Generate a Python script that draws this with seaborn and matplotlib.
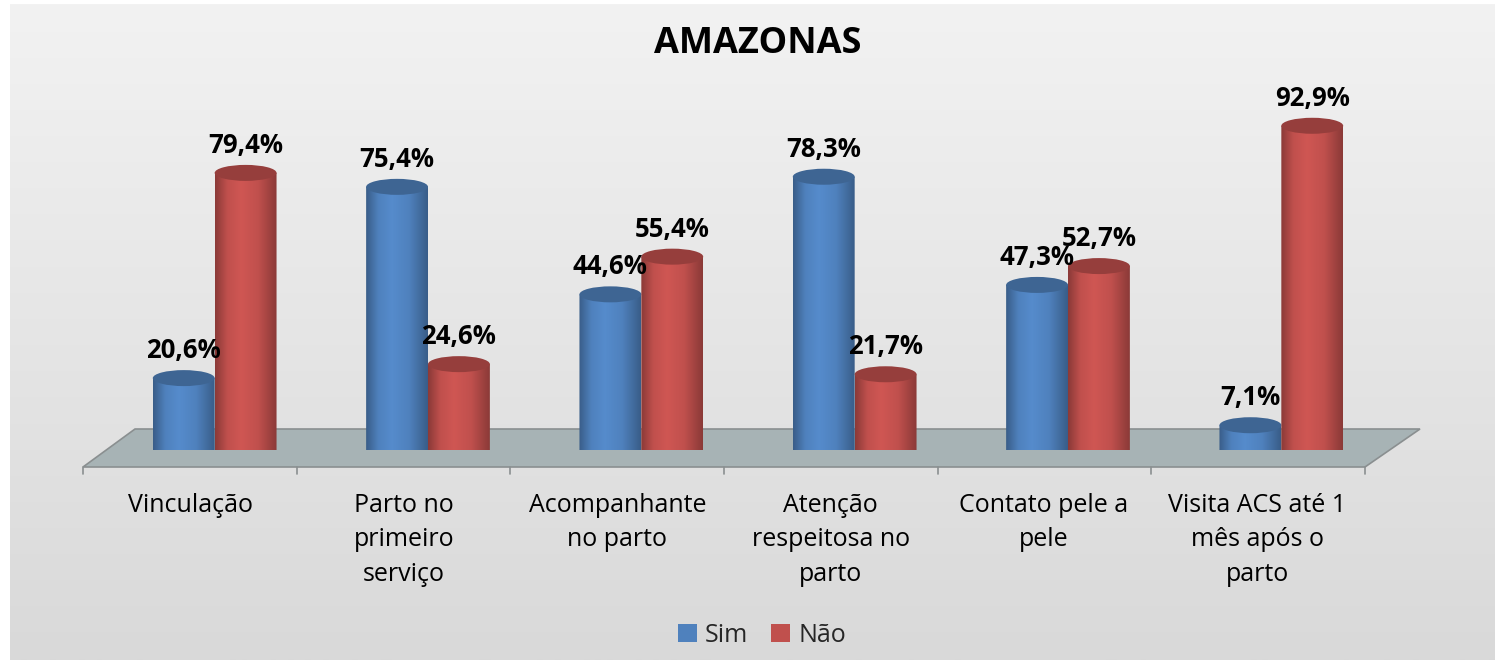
import numpy as np
import pandas as pd
import matplotlib
matplotlib.use("Agg")
import matplotlib.pyplot as plt
import seaborn as sns
from matplotlib.patches import Ellipse, Polygon, PathPatch, Rectangle, Patch
from matplotlib.path import Path
from matplotlib.colors import LinearSegmentedColormap, to_rgb
from matplotlib.transforms import ScaledTranslation

# ---------------- data ----------------
categories = ["Vinculação", "Parto no\nprimeiro\nserviço", "Acompanhante\nno parto",
              "Atenção\nrespeitosa no\nparto", "Contato pele a\npele",
              "Visita ACS até 1\nmês após o\nparto"]
series = ["Sim", "Não"]
sim_values = [20.6, 75.4, 44.6, 78.3, 47.3, 7.1]
nao_values = [79.4, 24.6, 55.4, 21.7, 52.7, 92.9]
title = "AMAZONAS"

BLUE = "#4F81BD"
RED = "#C0504D"

sns.set_theme(style="white")
FONT = ["Open Sans", "DejaVu Sans"]
plt.rcParams["font.family"] = FONT

W, H = 14.95, 6.60
fig = plt.figure(figsize=(W, H), dpi=100)
fig.patch.set_facecolor("white")

# background gradient panel (with small white border top/left)
bg = fig.add_axes([10 / 1495, 0, 1 - 10 / 1495, 1 - 4 / 660], zorder=-10)
grad = np.linspace(0, 1, 256).reshape(-1, 1)
bg_cmap = LinearSegmentedColormap.from_list("bg", ["#f2f2f2", "#d9d9d9"])
bg.imshow(grad, aspect="auto", cmap=bg_cmap, extent=(0, 1, 1, 0))
bg.set_axis_off()

# main axes: x -0.5..5.5 spans px 108..1388, y 0 at px 450, 3.49 px/unit
px_per_unit = 3.49
ax_left, ax_right = 108, 1388
ax_bottom_px = 450
ymax = 100
ax = fig.add_axes([ax_left / 1495, (660 - ax_bottom_px) / 660,
                   (ax_right - ax_left) / 1495, ymax * px_per_unit / 660])
ax.set_facecolor("none")

df = pd.DataFrame({
    "cat": categories * 2,
    "serie": [series[0]] * len(categories) + [series[1]] * len(categories),
    "val": sim_values + nao_values,
})
sns.barplot(data=df, x="cat", y="val", hue="serie", palette=[BLUE, RED],
            width=0.58, ax=ax, legend=False, saturation=1, zorder=2)
ax.set_xlim(-0.5, 5.5)
ax.set_ylim(0, ymax)
ax.set_axis_off()

ry = 8.0 / px_per_unit  # ellipse half height in data units


def cyl_cmap(base):
    r, g, b = to_rgb(base)
    dark = (r * 0.72, g * 0.72, b * 0.72)
    light = tuple(min(1, c * 1.08) for c in (r, g, b))
    return LinearSegmentedColormap.from_list(
        "c", [(0, dark), (0.2, base), (0.42, light), (0.7, base), (1, dark)], N=256)


cmaps = {BLUE: cyl_cmap(BLUE), RED: cyl_cmap(RED)}
hgrad = np.linspace(0, 1, 256).reshape(1, -1)

bars = [p for p in ax.patches if isinstance(p, Rectangle) and p.get_height() > 0]
for p in bars:
    x0, w, h = p.get_x(), p.get_width(), p.get_height()
    fc = p.get_facecolor()
    base = BLUE if np.allclose(fc[:3], to_rgb(BLUE), atol=0.02) else RED
    z = 2 if base == BLUE else 3
    p.set_alpha(0)
    xc = x0 + w / 2
    # body outline: rectangle + bottom half-ellipse
    t = np.linspace(np.pi, 2 * np.pi, 60)
    verts = [(x0, h), (x0, 0)] + [(xc + w / 2 * np.cos(a), ry * np.sin(a)) for a in t] + \
            [(x0 + w, 0), (x0 + w, h), (x0, h)]
    path = Path(verts, closed=True)
    clip = PathPatch(path, transform=ax.transData, facecolor="none", edgecolor="none")
    ax.add_patch(clip)
    im = ax.imshow(hgrad, aspect="auto", cmap=cmaps[base],
                   extent=(x0, x0 + w, -ry, h), zorder=z, origin="lower")
    im.set_clip_path(clip)
    im.set_clip_on(True)
    r, g, b = to_rgb(base)
    cap = Ellipse((xc, h), w, 2 * ry, facecolor=(r * 0.78, g * 0.78, b * 0.78),
                  edgecolor="none", zorder=z + 0.1, clip_on=False)
    ax.add_patch(cap)
    ax.text(xc, h + 14 / px_per_unit, f"{h:.1f}%".replace(".", ","),
            ha="center", va="bottom", fontsize=18.5, fontweight="bold",
            color="black", zorder=10, clip_on=False)
ax.set_xlim(-0.5, 5.5)
ax.set_ylim(0, ymax)

# floor (decorative) in data coords
front_y = -17 / px_per_unit
back_y = 21 / px_per_unit
fl, fr = -0.5 + (83 - ax_left) / 213.33, 5.5 + (1365 - ax_right) / 213.33
bl, br = -0.5 + (135 - ax_left) / 213.33, 5.5 + (1420 - ax_right) / 213.33
floor = Polygon([(fl, front_y), (fr, front_y), (br, back_y), (bl, back_y)],
                closed=True, facecolor="#a7b3b5", edgecolor="#8a8f90", lw=1.2,
                zorder=0.5, clip_on=False)
ax.add_patch(floor)
for k in range(7):
    xk = fl + k * (fr - fl) / 6
    ax.plot([xk, xk], [front_y, front_y - 7 / px_per_unit], color="#8a8f90",
            lw=1.2, zorder=0.6, clip_on=False)

# category labels, centred under the floor sections
lab_off = ScaledTranslation(-24 / 100, 0, fig.dpi_scale_trans)
for i, c in enumerate(categories):
    ax.text(i, front_y - 26 / px_per_unit, c, ha="center", va="top",
            fontsize=18, color="black", linespacing=1.5,
            transform=ax.transData + lab_off, clip_on=False)

fig.text(758 / 1495, 1 - 44 / 660, title, ha="center", va="center",
         fontsize=26, fontweight="bold", color="black")

handles = [Patch(facecolor=BLUE, edgecolor="none"), Patch(facecolor=RED, edgecolor="none")]
fig.legend(handles, series, loc="center", bbox_to_anchor=(762 / 1495, 1 - 635 / 660),
           ncol=2, frameon=False, fontsize=18, handlelength=0.75, handleheight=0.75,
           handletextpad=0.35, columnspacing=0.9)

fig.savefig("out.png", dpi=100, facecolor=fig.get_facecolor())
